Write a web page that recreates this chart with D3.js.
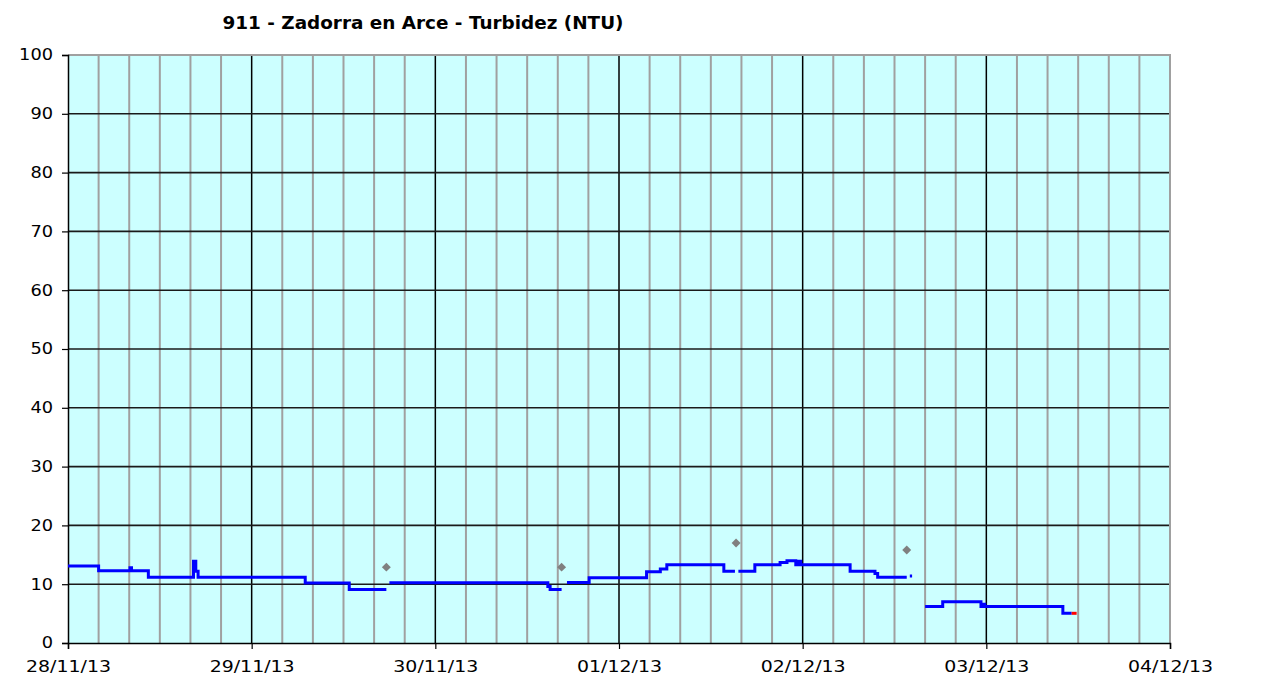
<!DOCTYPE html>
<html>
<head>
<meta charset="utf-8">
<script src="https://cdn.jsdelivr.net/npm/d3@7"></script>
<style>
    body { margin: 0; background: #fff; }
    svg { display: block; font-family: "DejaVu Sans", Verdana, sans-serif; }
</style>
</head>
<body>
<svg width="1265" height="684"></svg>
<script>
'use strict';

const TITLE = "911 - Zadorra en Arce - Turbidez (NTU)";
const START = new Date(2013, 10, 28);
const END = new Date(2013, 11, 4);
const Y_TICKS = [0, 10, 20, 30, 40, 50, 60, 70, 80, 90, 100];

// hours since 28/11/13 00:00, null breaks the line
const hours = [0, 4, 8.1, 8.3, 10.5, 16.4, 16.7, 17.0, 31, 36.75, 41.6, null,
    42, 62.7, 63.0, 64.5, null,
    65.2, 68.1, 75.6, 77.4, 78.25, 85.7, 87.15, null,
    87.6, 89.75, 93.05, 93.95, 95.1, 95.4, 95.75, 102.2, 105.45, 105.8, 109.6, null,
    110.0, 110.3, null,
    112, 114.3, 119.3, 119.6, 119.8, 130, 131.15];
const turbidity = [13.1, 12.3, 12.8, 12.3, 11.2, 13.9, 12.2, 11.2, 10.2, 9.1, 9.1, null,
    10.25, 9.6, 9.1, 9.1, null,
    10.3, 11.1, 12.1, 12.6, 13.3, 12.2, 12.2, null,
    12.2, 13.3, 13.7, 14.0, 13.3, 13.9, 13.3, 12.2, 11.8, 11.2, 11.2, null,
    11.4, 11.4, null,
    6.2, 7.0, 6.2, 6.6, 6.2, 5.05, 5.05];

// last reading, drawn in red
const redHours = [131.15, 131.8];
const redTurbidity = [5.05, 5.05];

// isolated grey markers
const markHours = [41.6, 64.5, 87.3, 109.6];
const markTurbidity = [12.9, 12.9, 17.0, 15.8];

const svg = d3.select("svg");
const plotLeft = 68, plotRight = 1170, plotTop = 55, plotBottom = 643;

const x = d3.scaleTime().domain([START, END]).range([plotLeft, plotRight]);
const y = d3.scaleLinear().domain([0, 100]).range([plotBottom, plotTop]);

function toDate(h) {
    return new Date(START.getTime() + h * 3600000);
}

function points(hs, vs) {
    return hs.map((h, i) => ({ t: h == null ? null : toDate(h), v: vs[i] }));
}

/**
 * Background and grid
 */
svg.append("rect")
    .attr("x", plotLeft).attr("y", plotTop)
    .attr("width", plotRight - plotLeft).attr("height", plotBottom - plotTop)
    .attr("fill", "#ccffff");

const minor = d3.timeHour.every(4).range(START, d3.timeHour.offset(END, 1))
    .filter(d => d.getHours() != 0);
svg.append("g").selectAll("line").data(minor).enter().append("line")
    .attr("x1", d => x(d)).attr("x2", d => x(d))
    .attr("y1", plotTop).attr("y2", plotBottom)
    .attr("stroke", "#a0a0a0").attr("stroke-width", 2);

const days = d3.timeDay.range(d3.timeDay.offset(START, 1), END);
svg.append("g").selectAll("line").data(days).enter().append("line")
    .attr("x1", d => x(d)).attr("x2", d => x(d))
    .attr("y1", plotTop).attr("y2", plotBottom)
    .attr("stroke", "#000").attr("stroke-width", 1.5);

svg.append("g").selectAll("line").data(Y_TICKS.filter(v => v > 0 && v < 100)).enter().append("line")
    .attr("x1", plotLeft).attr("x2", plotRight)
    .attr("y1", d => y(d)).attr("y2", d => y(d))
    .attr("stroke", "#1a1a1a").attr("stroke-width", 1.6);

// top and right border are grey
svg.append("path")
    .attr("d", "M" + plotLeft + "," + y(100) + "H" + x(END) + "V" + plotBottom)
    .attr("fill", "none").attr("stroke", "#a0a0a0").attr("stroke-width", 2);

/**
 * Axes
 */
const yAxis = svg.append("g")
    .attr("transform", "translate(" + plotLeft + ",0)")
    .call(d3.axisLeft(y).tickValues(Y_TICKS).tickSize(6).tickPadding(9));

const xAxis = svg.append("g")
    .attr("transform", "translate(0," + plotBottom + ")")
    .call(d3.axisBottom(x).ticks(d3.timeDay.every(1)).tickSize(6).tickPadding(12)
        .tickFormat(d3.timeFormat("%d/%m/%y")));

[yAxis, xAxis].forEach(a => {
    a.select(".domain").attr("stroke", "#000").attr("stroke-width", 1.5);
    a.selectAll(".tick line").attr("stroke", "#000").attr("stroke-width", 1.2);
    a.selectAll(".tick text")
        .attr("font-family", "DejaVu Sans, Verdana, sans-serif")
        .attr("font-size", 15).attr("fill", "#000");
});
// the original text is stretched sideways a bit
yAxis.selectAll(".tick text")
    .attr("textLength", function () { return this.textContent.length * 11.3; })
    .attr("lengthAdjust", "spacingAndGlyphs");
xAxis.selectAll(".tick text")
    .attr("textLength", 85)
    .attr("lengthAdjust", "spacingAndGlyphs");

svg.append("text")
    .attr("x", 423).attr("y", 29)
    .attr("text-anchor", "middle")
    .attr("font-size", 17).attr("font-weight", "bold").attr("fill", "#000")
    .attr("textLength", 401).attr("lengthAdjust", "spacingAndGlyphs")
    .text(TITLE);

/**
 * Series
 */
const line = d3.line()
    .defined(d => d.t != null && d.v != null)
    .x(d => x(d.t))
    .y(d => y(d.v))
    .curve(d3.curveStepAfter);

svg.append("path")
    .datum(points(hours, turbidity))
    .attr("d", line)
    .attr("fill", "none").attr("stroke", "#0000ff").attr("stroke-width", 3);

svg.append("path")
    .datum(points(redHours, redTurbidity))
    .attr("d", line)
    .attr("fill", "none").attr("stroke", "#ff0000").attr("stroke-width", 3);

svg.append("g").selectAll("path").data(points(markHours, markTurbidity)).enter().append("path")
    .attr("d", d3.symbol().type(d3.symbolSquare).size(40))
    .attr("transform", d => "translate(" + x(d.t) + "," + y(d.v) + ") rotate(45)")
    .attr("fill", "#808080");
</script>
</body>
</html>
